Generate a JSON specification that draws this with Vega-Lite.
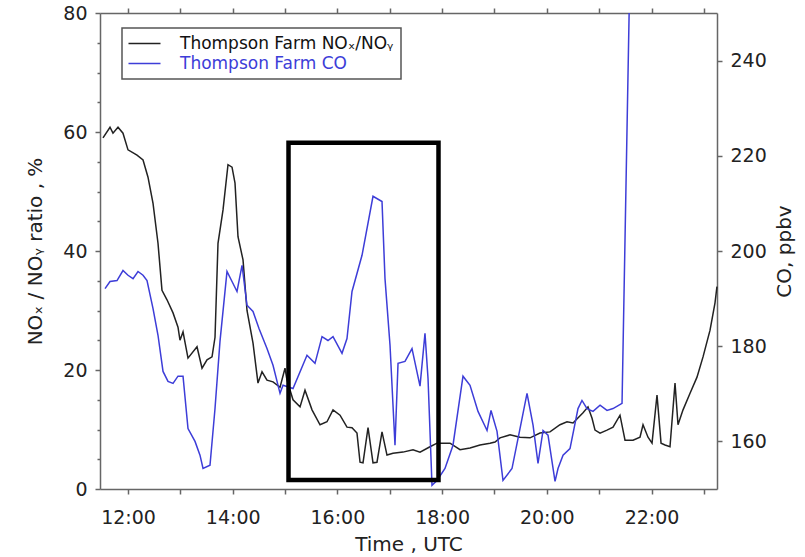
{
  "$schema": "https://vega.github.io/schema/vega-lite/v6.json",
  "width": 617,
  "height": 476,
  "autosize": "none",
  "padding": {"left": 100, "top": 13, "right": 88, "bottom": 68},
  "background": "white",
  "config": {
    "view": {"stroke": null},
    "axis": {
      "grid": false,
      "domainColor": "#666",
      "domainWidth": 1.5,
      "tickColor": "#666",
      "tickWidth": 1.5,
      "labelFont": "DejaVu Sans",
      "labelFontSize": 19,
      "labelColor": "#222",
      "titleFont": "DejaVu Sans",
      "titleFontSize": 20,
      "titleFontWeight": "normal",
      "titleColor": "#222",
      "labelOverlap": false,
      "labelFlush": false,
      "labelBound": false
    },
    "legend": {
      "orient": "none",
      "legendX": 22,
      "legendY": 15,
      "direction": "vertical",
      "strokeColor": "#555",
      "padding": 7,
      "symbolType": "M-3.2,0H3.2",
      "symbolSize": 100,
      "symbolStrokeWidth": 1.5,
      "symbolOffset": 7,
      "labelOffset": 27,
      "labelFont": "DejaVu Sans",
      "labelFontSize": 17,
      "labelLimit": 0,
      "rowPadding": 2
    }
  },
  "datasets": {
    "nox": [
      {"t": 11.522, "v": 59.0}, {"t": 11.656, "v": 60.8}, {"t": 11.713, "v": 59.8}, {"t": 11.809, "v": 60.8},
      {"t": 11.904, "v": 59.8}, {"t": 12.0, "v": 57.0}, {"t": 12.172, "v": 56.1}, {"t": 12.287, "v": 55.3},
      {"t": 12.382, "v": 52.4}, {"t": 12.478, "v": 48.0}, {"t": 12.573, "v": 41.3}, {"t": 12.649, "v": 33.4},
      {"t": 12.745, "v": 31.8}, {"t": 12.86, "v": 29.6}, {"t": 12.955, "v": 27.2}, {"t": 12.993, "v": 25.0},
      {"t": 13.051, "v": 26.4}, {"t": 13.146, "v": 22.0}, {"t": 13.318, "v": 23.9}, {"t": 13.414, "v": 20.3},
      {"t": 13.509, "v": 21.7}, {"t": 13.605, "v": 22.2}, {"t": 13.662, "v": 25.5}, {"t": 13.719, "v": 41.3},
      {"t": 13.815, "v": 46.9}, {"t": 13.91, "v": 54.5}, {"t": 13.987, "v": 54.1}, {"t": 14.044, "v": 51.4},
      {"t": 14.101, "v": 42.4}, {"t": 14.197, "v": 38.5}, {"t": 14.273, "v": 30.0}, {"t": 14.388, "v": 24.5},
      {"t": 14.483, "v": 17.8}, {"t": 14.56, "v": 19.7}, {"t": 14.655, "v": 18.3}, {"t": 14.77, "v": 18.0},
      {"t": 14.904, "v": 17.1}, {"t": 14.999, "v": 20.3}, {"t": 15.037, "v": 18.3}, {"t": 15.152, "v": 15.0},
      {"t": 15.286, "v": 13.8}, {"t": 15.381, "v": 16.6}, {"t": 15.515, "v": 13.3}, {"t": 15.668, "v": 10.8},
      {"t": 15.801, "v": 11.3}, {"t": 15.916, "v": 13.3}, {"t": 16.05, "v": 12.4}, {"t": 16.183, "v": 10.4},
      {"t": 16.279, "v": 10.3}, {"t": 16.374, "v": 9.4}, {"t": 16.432, "v": 4.5}, {"t": 16.489, "v": 4.4},
      {"t": 16.585, "v": 10.3}, {"t": 16.68, "v": 4.4}, {"t": 16.756, "v": 4.5}, {"t": 16.852, "v": 9.6},
      {"t": 16.947, "v": 5.7}, {"t": 17.062, "v": 6.0}, {"t": 17.253, "v": 6.2}, {"t": 17.444, "v": 6.6},
      {"t": 17.578, "v": 6.2}, {"t": 17.769, "v": 7.1}, {"t": 17.903, "v": 7.7}, {"t": 18.017, "v": 7.7},
      {"t": 18.151, "v": 7.7}, {"t": 18.342, "v": 6.6}, {"t": 18.533, "v": 6.9}, {"t": 18.724, "v": 7.4},
      {"t": 18.915, "v": 7.7}, {"t": 19.011, "v": 7.9}, {"t": 19.106, "v": 8.6}, {"t": 19.297, "v": 9.1},
      {"t": 19.488, "v": 8.7}, {"t": 19.679, "v": 8.6}, {"t": 19.87, "v": 9.4}, {"t": 20.061, "v": 9.6},
      {"t": 20.252, "v": 10.8}, {"t": 20.386, "v": 11.3}, {"t": 20.501, "v": 11.1}, {"t": 20.692, "v": 12.8},
      {"t": 20.787, "v": 13.8}, {"t": 20.864, "v": 11.9}, {"t": 20.921, "v": 9.9}, {"t": 21.017, "v": 9.4},
      {"t": 21.15, "v": 9.9}, {"t": 21.265, "v": 10.4}, {"t": 21.398, "v": 12.4}, {"t": 21.494, "v": 8.2},
      {"t": 21.647, "v": 8.2}, {"t": 21.78, "v": 8.7}, {"t": 21.838, "v": 10.8}, {"t": 21.933, "v": 8.7},
      {"t": 22.01, "v": 7.7}, {"t": 22.105, "v": 15.8}, {"t": 22.182, "v": 7.7}, {"t": 22.258, "v": 7.4},
      {"t": 22.353, "v": 7.1}, {"t": 22.449, "v": 17.8}, {"t": 22.506, "v": 10.8}, {"t": 22.602, "v": 13.3},
      {"t": 22.736, "v": 16.1}, {"t": 22.869, "v": 18.8}, {"t": 22.984, "v": 22.2}, {"t": 23.118, "v": 26.7},
      {"t": 23.213, "v": 31.3}, {"t": 23.25, "v": 34.0}
    ],
    "co": [
      {"t": 11.561, "c": 192.1}, {"t": 11.656, "c": 193.6}, {"t": 11.79, "c": 193.8}, {"t": 11.904, "c": 195.9},
      {"t": 12.0, "c": 194.9}, {"t": 12.096, "c": 194.2}, {"t": 12.191, "c": 195.7}, {"t": 12.287, "c": 194.9},
      {"t": 12.363, "c": 193.8}, {"t": 12.478, "c": 187.9}, {"t": 12.573, "c": 182.3}, {"t": 12.669, "c": 174.7},
      {"t": 12.764, "c": 172.6}, {"t": 12.86, "c": 172.2}, {"t": 12.955, "c": 173.7}, {"t": 13.051, "c": 173.7},
      {"t": 13.146, "c": 162.7}, {"t": 13.28, "c": 160.0}, {"t": 13.375, "c": 157.1}, {"t": 13.433, "c": 154.3},
      {"t": 13.566, "c": 155.0}, {"t": 13.662, "c": 166.9}, {"t": 13.757, "c": 181.0}, {"t": 13.891, "c": 195.7},
      {"t": 13.987, "c": 193.6}, {"t": 14.082, "c": 191.5}, {"t": 14.178, "c": 197.0}, {"t": 14.273, "c": 188.6},
      {"t": 14.388, "c": 187.3}, {"t": 14.502, "c": 183.7}, {"t": 14.655, "c": 179.5}, {"t": 14.77, "c": 176.0},
      {"t": 14.904, "c": 170.1}, {"t": 14.961, "c": 171.8}, {"t": 15.152, "c": 171.1}, {"t": 15.419, "c": 178.1},
      {"t": 15.572, "c": 176.4}, {"t": 15.706, "c": 182.0}, {"t": 15.82, "c": 181.2}, {"t": 15.916, "c": 182.0},
      {"t": 16.088, "c": 178.5}, {"t": 16.183, "c": 181.6}, {"t": 16.279, "c": 191.5}, {"t": 16.47, "c": 199.1},
      {"t": 16.68, "c": 211.5}, {"t": 16.852, "c": 210.4}, {"t": 16.909, "c": 194.2}, {"t": 17.005, "c": 180.2},
      {"t": 17.1, "c": 159.2}, {"t": 17.158, "c": 176.4}, {"t": 17.291, "c": 176.8}, {"t": 17.425, "c": 179.5},
      {"t": 17.578, "c": 171.6}, {"t": 17.673, "c": 182.7}, {"t": 17.731, "c": 173.2}, {"t": 17.807, "c": 150.8},
      {"t": 17.903, "c": 151.8}, {"t": 18.055, "c": 154.3}, {"t": 18.208, "c": 159.2}, {"t": 18.399, "c": 173.7},
      {"t": 18.533, "c": 171.8}, {"t": 18.686, "c": 166.3}, {"t": 18.858, "c": 162.3}, {"t": 18.934, "c": 166.5},
      {"t": 19.049, "c": 162.1}, {"t": 19.163, "c": 151.8}, {"t": 19.335, "c": 154.3}, {"t": 19.488, "c": 162.7},
      {"t": 19.622, "c": 170.1}, {"t": 19.737, "c": 163.4}, {"t": 19.832, "c": 155.4}, {"t": 19.928, "c": 162.3},
      {"t": 20.023, "c": 161.3}, {"t": 20.157, "c": 151.6}, {"t": 20.214, "c": 154.3}, {"t": 20.31, "c": 157.1},
      {"t": 20.443, "c": 158.5}, {"t": 20.596, "c": 166.9}, {"t": 20.672, "c": 168.6}, {"t": 20.768, "c": 166.9},
      {"t": 20.883, "c": 166.3}, {"t": 21.017, "c": 167.6}, {"t": 21.15, "c": 166.5}, {"t": 21.265, "c": 166.9},
      {"t": 21.437, "c": 168.0}, {"t": 21.589, "c": 260.0}
    ],
    "box": [{"t1": 15.066, "t2": 17.931, "v1": 58.2, "v2": 1.5}]
  },
  "layer": [
    {
      "data": {"name": "nox"},
      "mark": {"type": "line", "strokeWidth": 1.5},
      "encoding": {
        "x": {
          "field": "t", "type": "quantitative",
          "scale": {"domain": [11.465, 23.251], "nice": false, "zero": false},
          "axis": {
            "orient": "bottom",
            "values": [12, 13, 14, 15, 16, 17, 18, 19, 20, 21, 22, 23],
            "labelExpr": "datum.value % 2 === 0 ? datum.value + ':00' : ''",
            "tickSize": 5,
            "labelPadding": 14,
            "title": "Time , UTC",
            "titlePadding": 7
          }
        },
        "y": {
          "field": "v", "type": "quantitative",
          "scale": {"domain": [0, 80], "nice": false},
          "axis": {
            "orient": "left",
            "values": [0, 5, 10, 15, 20, 25, 30, 35, 40, 45, 50, 55, 60, 65, 70, 75, 80],
            "labelExpr": "datum.value % 20 === 0 ? datum.label : ''",
            "tickSize": {"condition": {"test": "datum.value % 20 === 0", "value": 5}, "value": 3},
            "labelPadding": 8,
            "title": "NOₓ / NOᵧ ratio , %",
            "titlePadding": 17
          }
        },
        "color": {
          "datum": "Thompson Farm NOₓ/NOᵧ", "type": "nominal",
          "scale": {"domain": ["Thompson Farm NOₓ/NOᵧ", "Thompson Farm CO"], "range": ["#222222", "#3d3dd8"]},
          "legend": {
            "title": null,
            "encode": {
              "labels": {"update": {"fill": {"signal": "datum.value === 'Thompson Farm CO' ? '#3d3dd8' : '#111111'"}}},
              "legend": {"update": {"strokeWidth": {"value": 1.5}}}
            }
          }
        }
      }
    },
    {
      "data": {"name": "co"},
      "mark": {"type": "line", "strokeWidth": 1.5, "clip": true},
      "encoding": {
        "x": {
          "field": "t", "type": "quantitative",
          "axis": {
            "orient": "top",
            "values": [12, 13, 14, 15, 16, 17, 18, 19, 20, 21, 22, 23],
            "labels": false,
            "tickSize": 5,
            "title": null
          }
        },
        "y": {
          "field": "c", "type": "quantitative",
          "scale": {"domain": [150, 250], "nice": false, "zero": false},
          "axis": {
            "orient": "right",
            "values": [160, 180, 200, 220, 240],
            "tickSize": 5,
            "labelPadding": 8,
            "title": "CO, ppbv",
            "titleAngle": 270,
            "titleBaseline": "top",
            "titlePadding": 8
          }
        },
        "color": {"datum": "Thompson Farm CO", "type": "nominal"}
      }
    },
    {
      "data": {"name": "box"},
      "mark": {"type": "rect", "filled": false, "stroke": "black", "strokeWidth": 4.5},
      "encoding": {
        "x": {"field": "t1", "type": "quantitative", "axis": null},
        "x2": {"field": "t2"},
        "y": {"field": "v1", "type": "quantitative", "scale": {"domain": [0, 80], "nice": false}, "axis": null},
        "y2": {"field": "v2"}
      }
    }
  ],
  "resolve": {"scale": {"y": "independent"}, "axis": {"x": "independent"}}
}
